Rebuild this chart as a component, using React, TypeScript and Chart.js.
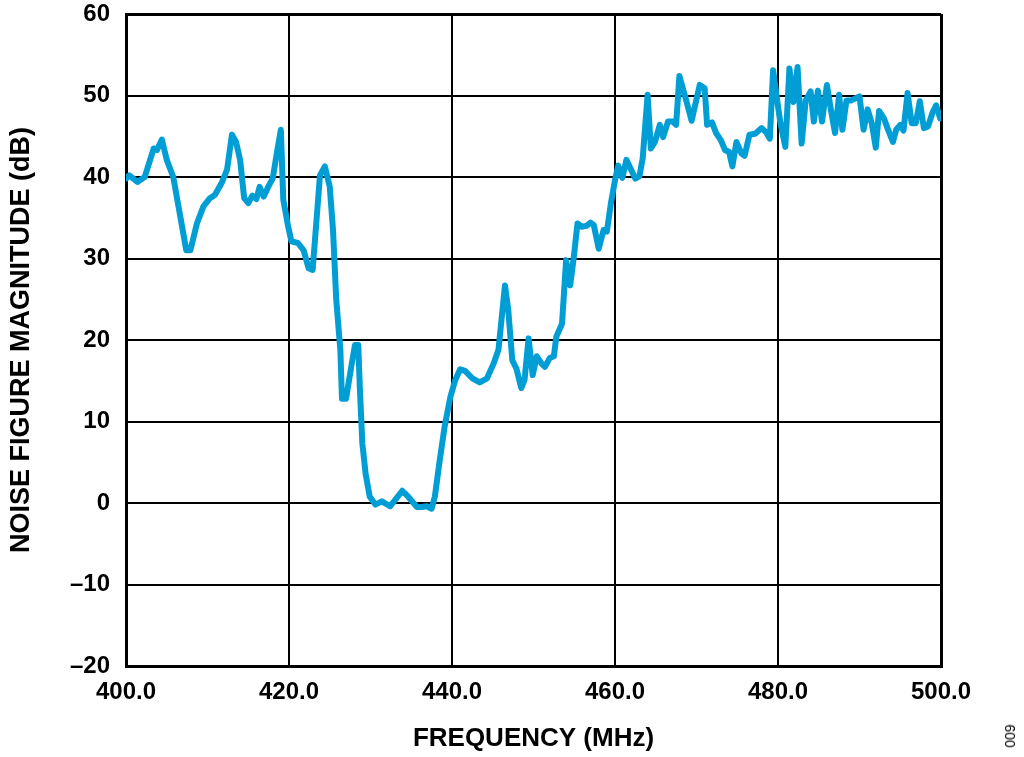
import React, { useEffect, useRef } from "react";
import { Chart, registerables } from "chart.js";

Chart.register(...registerables);

const freqMHz: number[] = [
  400.0, 400.4, 401.4, 402.3, 403.4, 403.8, 404.4, 405.0, 405.8, 406.6,
  407.4, 407.9, 408.7, 409.5, 410.3, 410.9, 411.7, 412.4, 413.0, 413.5,
  414.0, 414.5, 415.0, 415.5, 416.0, 416.4, 416.9, 417.5, 418.0, 418.5,
  419.0, 419.3, 419.9, 420.3, 421.1, 421.8, 422.4, 422.9, 423.8, 424.4,
  425.0, 425.4, 425.8, 426.3, 426.5, 427.0, 427.7, 428.1, 428.5, 428.7,
  429.0, 429.4, 429.9, 430.6, 431.4, 432.4, 433.2, 433.9, 434.6, 435.7,
  436.3, 436.9, 437.5, 437.9, 438.5, 439.1, 439.8, 440.4, 441.0, 441.6,
  442.5, 443.4, 444.3, 445.1, 445.7, 446.5, 446.9, 447.4, 447.9, 448.5,
  448.9, 449.4, 449.9, 450.4, 451.0, 451.4, 452.0, 452.5, 452.8, 453.5,
  454.0, 454.5, 454.9, 455.4, 455.9, 456.5, 457.0, 457.4, 458.0, 458.6,
  459.0, 459.5, 460.0, 460.4, 460.9, 461.4, 462.5, 463.0, 463.4, 464.0,
  464.4, 464.9, 465.5, 465.9, 466.5, 467.1, 467.5, 467.9, 468.6, 469.4,
  470.4, 471.0, 471.3, 471.9, 472.4, 473.0, 473.5, 474.0, 474.4, 474.9,
  475.5, 475.9, 476.5, 477.2, 478.0, 478.6, 479.0, 479.4, 479.9, 480.3,
  480.9, 481.4, 481.9, 482.4, 482.9, 483.4, 484.0, 484.4, 484.9, 485.4,
  486.0, 486.5, 487.0, 487.5, 487.9, 488.4, 489.0, 490.0, 490.5, 491.0,
  491.5, 492.0, 492.4, 493.0, 493.5, 494.1, 494.5, 495.0, 495.4, 495.9,
  496.4, 496.9, 497.4, 497.9, 498.4, 499.0, 499.4, 499.9,
];

const noiseFigureDb: number[] = [
  39.8, 40.2, 39.4, 40.0, 43.5, 43.3, 44.6, 42.1, 40.0, 35.5,
  31.0, 31.0, 34.3, 36.4, 37.4, 37.8, 39.2, 40.9, 45.2, 44.3,
  42.1, 37.4, 36.8, 37.7, 37.3, 38.8, 37.6, 38.9, 39.8, 42.9,
  45.8, 37.2, 33.9, 32.1, 31.9, 31.0, 28.8, 28.6, 40.2, 41.3,
  38.8, 33.5, 24.9, 18.8, 12.8, 12.8, 17.1, 19.4, 19.4, 13.9,
  7.3, 3.6, 0.8, -0.2, 0.2, -0.4, 0.6, 1.5, 0.8, -0.5,
  -0.5, -0.4, -0.7, 0.8, 5.3, 9.4, 13.0, 15.1, 16.4, 16.2,
  15.3, 14.8, 15.3, 17.1, 18.8, 26.7, 23.7, 17.5, 16.5, 14.1,
  15.1, 20.2, 15.7, 18.0, 17.1, 16.7, 17.8, 18.0, 20.4, 22.0,
  29.8, 26.7, 29.8, 34.3, 33.9, 34.0, 34.4, 34.1, 31.2, 33.5,
  33.3, 36.8, 39.6, 41.4, 39.9, 42.1, 39.8, 40.1, 42.3, 50.1,
  43.5, 44.3, 46.4, 44.9, 46.8, 46.8, 46.4, 52.4, 49.9, 46.9,
  51.3, 50.9, 46.4, 46.7, 45.4, 44.5, 43.3, 43.1, 41.3, 44.3,
  42.9, 42.6, 45.2, 45.3, 46.0, 45.4, 44.7, 53.1, 49.4, 46.6,
  43.7, 53.3, 49.2, 53.5, 44.1, 49.4, 50.5, 46.8, 50.6, 46.8,
  51.3, 48.2, 45.4, 50.1, 45.8, 49.4, 49.4, 49.9, 45.8, 48.3,
  46.6, 43.6, 48.1, 47.2, 45.8, 44.3, 45.8, 46.4, 45.7, 50.3,
  46.6, 46.6, 49.3, 46.0, 46.2, 48.0, 48.8, 47.2,
];

const xMin = 400;
const xMax = 500;
const xStep = 20;
const yMin = -20;
const yMax = 60;
const yStep = 10;

const xTitle = "FREQUENCY (MHz)";
const yTitle = "NOISE FIGURE MAGNITUDE (dB)";
const figureId = "009";

const FONT = "'Liberation Sans', Arial, Helvetica, sans-serif";

export default function App() {
  const canvasRef = useRef<HTMLCanvasElement | null>(null);

  useEffect(() => {
    const canvas = canvasRef.current;
    if (!canvas) return;
    const points = freqMHz.map((f, i) => ({ x: f, y: noiseFigureDb[i] }));
    const chart = new Chart(canvas, {
      type: "line",
      data: {
        datasets: [
          {
            data: points,
            borderColor: "#009ed5",
            borderWidth: 6,
            pointRadius: 0,
            tension: 0,
            borderJoinStyle: "round",
            borderCapStyle: "round",
            fill: false,
          },
        ],
      },
      options: {
        animation: false,
        responsive: false,
        devicePixelRatio: 1,
        layout: { padding: { top: 14, right: 83, left: 0, bottom: 0 } },
        plugins: {
          legend: { display: false },
          tooltip: { enabled: false },
        },
        scales: {
          x: {
            type: "linear",
            min: xMin,
            max: xMax,
            afterFit: (scale: any) => {
              scale.height = 91;
              scale.paddingLeft = 0;
              scale.paddingRight = 0;
            },
            ticks: {
              stepSize: xStep,
              color: "#000",
              padding: 12,
              maxRotation: 0,
              font: { family: FONT, size: 24, weight: "bold" },
              callback: (v: any) => Number(v).toFixed(1),
            },
            grid: {
              color: "#000",
              lineWidth: (ctx: any) =>
                ctx.tick && (ctx.tick.value === xMin || ctx.tick.value === xMax) ? 3 : 2,
              drawTicks: false,
            },
            border: { display: true, color: "#000", width: 3 },
            title: {
              display: true,
              text: xTitle,
              color: "#000",
              font: { family: FONT, size: 26, weight: "bold" },
              padding: { top: 0, bottom: 3 },
            },
          },
          y: {
            type: "linear",
            min: yMin,
            max: yMax,
            afterFit: (scale: any) => {
              scale.width = 126;
              scale.paddingTop = 0;
              scale.paddingBottom = 0;
            },
            ticks: {
              stepSize: yStep,
              color: "#000",
              padding: 16,
              font: { family: FONT, size: 24, weight: "bold" },
              callback: (v: any) =>
                Number(v) < 0 ? "\u2013" + Math.abs(Number(v)) : String(v),
            },
            grid: {
              color: "#000",
              lineWidth: (ctx: any) =>
                ctx.tick && (ctx.tick.value === yMin || ctx.tick.value === yMax) ? 3 : 2,
              drawTicks: false,
            },
            border: { display: true, color: "#000", width: 3 },
            title: {
              display: true,
              text: yTitle,
              color: "#000",
              font: { family: FONT, size: 27, weight: "bold" },
              padding: { top: 5, bottom: 0 },
            },
          },
        },
      },
    });
    return () => chart.destroy();
  }, []);

  return (
    <div
      style={{
        position: "fixed",
        left: 0,
        top: 0,
        width: 1024,
        height: 757,
        background: "#fff",
      }}
    >
      <canvas
        ref={canvasRef}
        width={1024}
        height={757}
        style={{ width: 1024, height: 757, display: "block" }}
      />
      <div
        style={{
          position: "absolute",
          left: 1010,
          top: 736,
          transform: "translate(-50%, -50%) rotate(-90deg)",
          fontFamily: FONT,
          fontSize: 14,
          color: "#000",
          whiteSpace: "nowrap",
        }}
      >
        {figureId}
      </div>
    </div>
  );
}
